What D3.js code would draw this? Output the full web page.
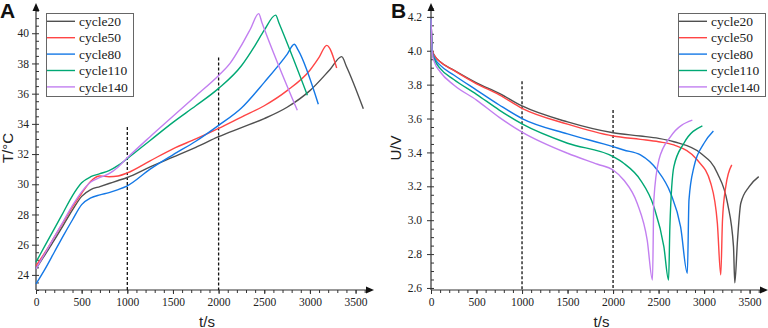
<!DOCTYPE html>
<html>
<head>
<meta charset="utf-8">
<script src="https://cdn.jsdelivr.net/npm/d3@7"></script>
<style>
  body { margin: 0; background: #fff; }
</style>
</head>
<body>
<div id="canvas"></div>
<script>
"use strict"

/* Configuration variables: drawing */
let svgWidth = 768;
let svgHeight = 328;
let axisY = 290;
let axisTop = 5;

/* Series names and colours */
let cycleNames = ["cycle20", "cycle50", "cycle80", "cycle110", "cycle140"];
let cycleColors = ["#505050", "#ff4545", "#1478e6", "#00a874", "#c27ff0"];

/* Tick labels */
let tickTime = [0, 500, 1000, 1500, 2000, 2500, 3000, 3500];
let tickTemp = [24, 26, 28, 30, 32, 34, 36, 38, 40];
let tickVolt = [2.6, 2.8, 3.0, 3.2, 3.4, 3.6, 3.8, 4.0, 4.2];

/* Panel A: temperature (T/°C) against time (t/s) */
let tempTime20 = [0, 100, 200, 300, 400, 500, 600, 700, 800, 900, 1000, 1250, 1500, 1750, 2000, 2250, 2500, 2750, 3000, 3220, 3348, 3400, 3585];
let tempVal20 = [24.4, 25.35, 26.3, 27.3, 28.3, 29.2, 29.65, 29.85, 30.05, 30.25, 30.45, 31.15, 31.8, 32.45, 33.15, 33.75, 34.35, 35.1, 36.2, 37.6, 38.45, 37.8, 35.0];

let tempTime50 = [0, 100, 200, 300, 400, 500, 600, 700, 800, 900, 1000, 1250, 1500, 1750, 2000, 2250, 2500, 2750, 3000, 3100, 3184, 3293];
let tempVal50 = [24.6, 25.5, 26.5, 27.5, 28.5, 29.4, 30.2, 30.55, 30.5, 30.55, 30.75, 31.55, 32.35, 33.0, 33.7, 34.45, 35.2, 36.2, 37.55, 38.4, 39.2, 37.7];

let tempTime80 = [0, 100, 200, 300, 400, 500, 600, 700, 800, 900, 1000, 1250, 1500, 1750, 2000, 2250, 2500, 2750, 2829, 2870, 3092];
let tempVal80 = [23.4, 24.4, 25.5, 26.6, 27.65, 28.65, 29.1, 29.3, 29.45, 29.65, 29.9, 31.0, 31.95, 32.85, 33.9, 35.05, 36.75, 38.6, 39.27, 38.9, 35.3];

let tempTime110 = [0, 100, 200, 300, 400, 500, 600, 700, 800, 900, 1000, 1250, 1500, 1750, 2000, 2250, 2400, 2500, 2625, 2660, 2972];
let tempVal110 = [24.85, 25.95, 27.05, 28.15, 29.25, 30.1, 30.5, 30.7, 30.9, 31.25, 31.7, 32.9, 34.1, 35.2, 36.35, 37.85, 39.2, 40.2, 41.2, 40.7, 35.9];

let tempTime140 = [0, 100, 200, 300, 400, 500, 600, 700, 800, 900, 1000, 1250, 1500, 1750, 2000, 2125, 2250, 2350, 2439, 2475, 2862];
let tempVal140 = [24.4, 25.45, 26.5, 27.55, 28.6, 29.5, 30.15, 30.45, 30.7, 31.15, 31.75, 33.15, 34.5, 35.85, 37.2, 38.0, 39.2, 40.3, 41.3, 40.7, 34.9];

/* Panel B: voltage (U/V) against time (t/s) */
let voltTime20 = [0, 15, 40, 100, 250, 500, 750, 1000, 1500, 2000, 2300, 2500, 2668, 2963, 3146, 3257, 3323, 3337, 3367, 3403, 3495, 3600];
let voltVal20 = [4.19, 4.0, 3.97, 3.935, 3.886, 3.811, 3.749, 3.674, 3.58, 3.516, 3.497, 3.483, 3.463, 3.395, 3.277, 3.10, 2.844, 2.63, 2.883, 3.10, 3.198, 3.257];

let voltTime50 = [0, 15, 40, 100, 250, 500, 750, 1000, 1500, 2000, 2300, 2500, 2668, 2926, 3073, 3146, 3183, 3202, 3238, 3304];
let voltVal50 = [4.19, 4.0, 3.97, 3.935, 3.884, 3.805, 3.74, 3.66, 3.567, 3.497, 3.477, 3.463, 3.444, 3.355, 3.218, 2.98, 2.677, 3.0, 3.198, 3.326];

let voltTime80 = [0, 15, 40, 100, 250, 500, 750, 1000, 1500, 2000, 2117, 2301, 2485, 2632, 2742, 2816, 2834, 2889, 2999, 3102];
let voltVal80 = [4.19, 3.99, 3.955, 3.915, 3.857, 3.768, 3.68, 3.60, 3.509, 3.434, 3.414, 3.385, 3.296, 3.159, 2.96, 2.687, 3.12, 3.316, 3.454, 3.526];

let voltTime110 = [0, 15, 40, 100, 250, 500, 750, 1000, 1500, 2000, 2117, 2301, 2448, 2558, 2610, 2624, 2668, 2778, 2981];
let voltVal110 = [4.19, 3.985, 3.945, 3.896, 3.83, 3.743, 3.65, 3.568, 3.454, 3.375, 3.336, 3.237, 3.08, 2.844, 2.647, 2.96, 3.316, 3.454, 3.557];

let voltTime140 = [0, 15, 40, 100, 250, 500, 750, 1000, 1500, 1830, 2000, 2117, 2265, 2375, 2433, 2448, 2503, 2632, 2871];
let voltVal140 = [4.19, 3.98, 3.93, 3.876, 3.798, 3.709, 3.607, 3.52, 3.395, 3.33, 3.296, 3.237, 3.10, 2.883, 2.647, 3.12, 3.355, 3.493, 3.59];

/* Dashed marker lines: time and top value */
let markTime = [1000, 2000];
let markTempTop = [33.8, 38.4];
let markVoltTop = [3.82, 3.65];

/* Create drawing canvas */
let svg = d3.select("#canvas")
    .append("svg")
    .attr("width", svgWidth)
    .attr("height", svgHeight)
    .style("display", "block");

function buildSeries(times, values) {
    return cycleNames.map(function (name, i) {
        return {name: name, color: cycleColors[i], points: d3.zip(times[i], values[i])};
    });
}

let tempSeries = buildSeries(
    [tempTime20, tempTime50, tempTime80, tempTime110, tempTime140],
    [tempVal20, tempVal50, tempVal80, tempVal110, tempVal140]);
let voltSeries = buildSeries(
    [voltTime20, voltTime50, voltTime80, voltTime110, voltTime140],
    [voltVal20, voltVal50, voltVal80, voltVal110, voltVal140]);

let axisColor = "#333";
let serif = "'Liberation Serif', 'Times New Roman', serif";
let sans = "'Liberation Sans', Arial, sans-serif";

function drawPanel(p) {
    let g = svg.append("g");

    let x = d3.scaleLinear().domain([0, 3680]).range([p.left, p.right]);
    let y = d3.scaleLinear().domain(p.yDomain).range([axisY, axisTop]);

    /* Minor ticks */
    g.append("g")
        .attr("transform", "translate(0," + axisY + ")")
        .call(d3.axisBottom(x).tickValues(d3.range(0, 3601, 100)).tickSize(3).tickFormat(""))
        .call(a => a.select(".domain").remove());
    g.append("g")
        .attr("transform", "translate(" + p.left + ",0)")
        .call(d3.axisRight(y).tickValues(p.minorTicks).tickSize(3).tickFormat(""))
        .call(a => a.select(".domain").remove());

    /* Major ticks */
    let xAxis = g.append("g")
        .attr("transform", "translate(0," + axisY + ")")
        .call(d3.axisBottom(x).tickValues(tickTime).tickSize(4).tickPadding(4).tickFormat(d3.format("d")));
    let yAxis = g.append("g")
        .attr("transform", "translate(" + p.left + ",0)")
        .call(d3.axisLeft(y).tickValues(p.ticks).tickSize(4).tickPadding(p.pad).tickFormat(p.format));
    [xAxis, yAxis].forEach(function (a) {
        a.attr("font-family", null).attr("font-size", null);
        a.select(".domain").remove();
        a.selectAll("text")
            .style("font-family", serif)
            .style("font-size", "11.5px")
            .attr("fill", "#222");
    });
    g.selectAll(".tick line").attr("stroke", axisColor);

    /* Axis lines with arrow heads */
    g.append("path")
        .attr("d", "M" + p.left + "," + axisY + "V" + (axisTop + 3) + "M" + p.left + "," + axisY + "H" + (p.right - 3))
        .attr("stroke", axisColor)
        .attr("stroke-width", 1.2)
        .attr("fill", "none");
    g.append("path")
        .attr("d", "M" + p.left + "," + (axisTop - 2) + "l-3.5,8h7z")
        .attr("fill", "#111");
    g.append("path")
        .attr("d", "M" + (p.right + 2) + "," + axisY + "l-8,-3.5v7z")
        .attr("fill", "#111");

    /* Dashed marker lines */
    g.selectAll(".mark")
        .data(d3.zip(markTime, p.markTop))
        .join("line")
        .attr("x1", d => x(d[0]))
        .attr("x2", d => x(d[0]))
        .attr("y1", d => y(d[1]))
        .attr("y2", axisY)
        .attr("stroke", "#111")
        .attr("stroke-width", 1.3)
        .attr("stroke-dasharray", "3,2");

    /* Curves */
    let line = d3.line()
        .x(d => x(d[0]))
        .y(d => y(d[1]))
        .curve(d3.curveMonotoneX);
    g.selectAll(".curve")
        .data(p.series)
        .join("path")
        .attr("d", d => line(d.points))
        .attr("fill", "none")
        .attr("stroke", d => d.color)
        .attr("stroke-width", 1.4);

    /* Legend */
    let lg = g.append("g").attr("transform", "translate(" + p.legendX + ",13)");
    lg.append("rect")
        .attr("x", 0.5)
        .attr("y", 0.5)
        .attr("width", 87)
        .attr("height", 83)
        .attr("fill", "#fff")
        .attr("stroke", "#666")
        .attr("stroke-width", 1);
    let rows = lg.selectAll(".row")
        .data(p.series)
        .join("g")
        .attr("transform", (d, i) => "translate(0," + (8.3 + i * 16.4) + ")");
    rows.append("line")
        .attr("x1", 1)
        .attr("x2", 29)
        .attr("stroke", d => d.color)
        .attr("stroke-width", 1.4);
    rows.append("text")
        .attr("x", 33)
        .attr("y", 0)
        .attr("dy", "0.35em")
        .style("font-family", serif)
        .style("font-size", "13.5px")
        .attr("fill", "#222")
        .text(d => d.name);

    /* Axis titles and panel letter */
    g.append("text")
        .attr("transform", "translate(" + p.yTitleX + ",148) rotate(-90)")
        .attr("text-anchor", "middle")
        .attr("dominant-baseline", "central")
        .style("font-family", sans)
        .style("font-size", "15px")
        .attr("fill", "#222")
        .text(p.yTitle);
    g.append("text")
        .attr("x", (p.left + p.right) / 2 + 3)
        .attr("y", 321)
        .attr("text-anchor", "middle")
        .attr("dominant-baseline", "central")
        .style("font-family", sans)
        .style("font-size", "15px")
        .attr("fill", "#222")
        .text("t/s");
    g.append("text")
        .attr("x", p.letterX)
        .attr("y", 18)
        .style("font-family", sans)
        .style("font-weight", "bold")
        .style("font-size", "21px")
        .attr("fill", "#111")
        .text(p.letter);
}

drawPanel({
    left: 36, right: 372,
    yDomain: [23, 41.87],
    ticks: tickTemp,
    minorTicks: d3.range(23, 41.6, 0.5),
    format: d3.format("d"),
    pad: 3,
    markTop: markTempTop,
    series: tempSeries,
    legendX: 46,
    yTitle: "T/°C", yTitleX: 7,
    letter: "A", letterX: 0
});

drawPanel({
    left: 431, right: 766,
    yDomain: [2.588, 4.27],
    ticks: tickVolt,
    minorTicks: d3.range(2.6, 4.26, 0.05),
    format: d3.format(".1f"),
    pad: 5,
    markTop: markVoltTop,
    series: voltSeries,
    legendX: 678,
    yTitle: "U/V", yTitleX: 395,
    letter: "B", letterX: 391
});
</script>
</body>
</html>
